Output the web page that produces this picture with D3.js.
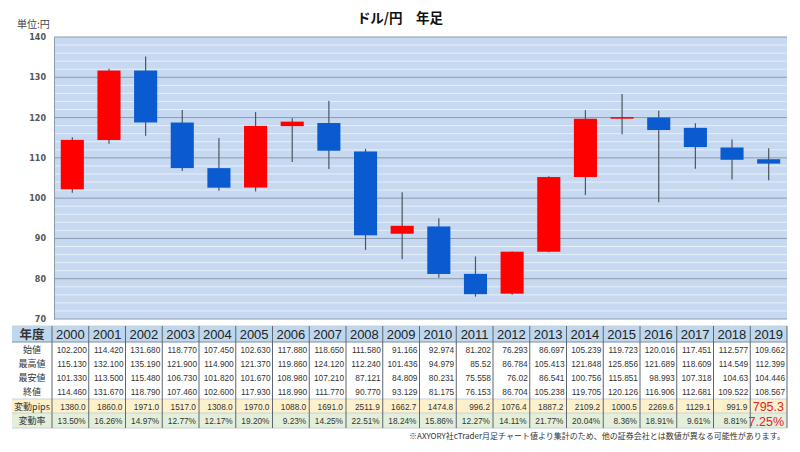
<!DOCTYPE html>
<html><head><meta charset="utf-8">
<script src="https://cdn.jsdelivr.net/npm/d3@7"></script>
<style>body{margin:0;background:#fff;}svg{display:block;font-family:"Noto Sans CJK JP","Noto Sans",sans-serif;}</style>
</head><body>
<svg id="c" width="800" height="452"></svg>
<script>
const years = ["2000","2001","2002","2003","2004","2005","2006","2007","2008","2009","2010","2011","2012","2013","2014","2015","2016","2017","2018","2019"];
const openV = ["102.200","114.420","131.680","118.770","107.450","102.630","117.880","118.650","111.580","91.166","92.974","81.202","76.293","86.697","105.239","119.723","120.016","117.451","112.577","109.662"];
const highV = ["115.130","132.100","135.190","121.900","114.900","121.370","119.860","124.120","112.240","101.436","94.979","85.52","86.784","105.413","121.848","125.856","121.689","118.609","114.549","112.399"];
const lowV = ["101.330","113.500","115.480","106.730","101.820","101.670","108.980","107.210","87.121","84.809","80.231","75.558","76.02","86.541","100.756","115.851","98.993","107.318","104.63","104.446"];
const closeV = ["114.460","131.670","118.790","107.460","102.600","117.930","118.990","111.770","90.770","93.129","81.175","76.153","86.704","105.238","119.705","120.126","116.906","112.681","109.522","108.567"];
const pipsV = ["1380.0","1860.0","1971.0","1517.0","1308.0","1970.0","1088.0","1691.0","2511.9","1662.7","1474.8","996.2","1076.4","1887.2","2109.2","1000.5","2269.6","1129.1","991.9","795.3"];
const rateV = ["13.50%","16.26%","14.97%","12.77%","12.17%","19.20%","9.23%","14.25%","22.51%","18.24%","15.86%","12.27%","14.11%","21.77%","20.04%","8.36%","18.91%","9.61%","8.81%","7.25%"];
const yTicks = [70,80,90,100,110,120,130,140];
const rowLabels = ["始値","最高値","最安値","終値","変動pips","変動率"];

const svg = d3.select("#c");
const L = 54, R = 787, T = 37, B = 319;
const x = d3.scaleBand().domain(years).range([L, R]).paddingInner(0.37).paddingOuter(0.185);
const xCol = d3.scaleBand().domain(years).range([L - 2, R]);
const y = d3.scaleLinear().domain([70, 140]).range([B, T]);

// plot background
svg.append("rect").attr("x", L).attr("y", T).attr("width", R - L).attr("height", B - T).attr("fill", "#c6d9f0");
// minor grid
const minor = d3.range(72, 140, 2).filter(v => v % 10 !== 0);
svg.append("g").selectAll("line").data(minor).join("line")
  .attr("x1", L).attr("x2", R).attr("y1", d => y(d)).attr("y2", d => y(d))
  .attr("stroke", "#e6eefa").attr("stroke-width", 1);
// major grid
svg.append("g").selectAll("line").data(yTicks).join("line")
  .attr("x1", L).attr("x2", R).attr("y1", d => y(d)).attr("y2", d => y(d))
  .attr("stroke", "#8c9cb0").attr("stroke-width", 1);

// y axis
const ya = svg.append("g").attr("transform", `translate(${L},0)`)
  .call(d3.axisLeft(y).tickValues(yTicks).tickSize(0).tickPadding(8));
ya.select(".domain").attr("stroke", "#8c9cb0");
ya.selectAll("text").attr("font-size", 8).attr("font-weight", "bold").attr("fill", "#555")
  .attr("font-family", "DejaVu Sans, sans-serif");

// candles
const data = years.map((yr, i) => ({yr, o: +openV[i], h: +highV[i], l: +lowV[i], c: +closeV[i]}));
const g = svg.append("g");
g.selectAll("line.w").data(data).join("line").attr("class", "w")
  .attr("x1", d => x(d.yr) + x.bandwidth() / 2).attr("x2", d => x(d.yr) + x.bandwidth() / 2)
  .attr("y1", d => y(d.h)).attr("y2", d => y(d.l))
  .attr("stroke", "#4d5560").attr("stroke-width", 1.2);
g.selectAll("rect.b").data(data).join("rect").attr("class", "b")
  .attr("x", d => x(d.yr)).attr("width", x.bandwidth())
  .attr("y", d => y(Math.max(d.o, d.c)))
  .attr("height", d => Math.max(1.2, Math.abs(y(d.o) - y(d.c))))
  .attr("fill", d => d.c >= d.o ? "#ff0000" : "#0b5bd0");

// title
svg.append("text").attr("x", 400).attr("y", 23).attr("text-anchor", "middle")
  .attr("font-size", 13.5).attr("font-weight", "bold").attr("fill", "#111").text("ドル/円　年足");
svg.append("text").attr("x", 17).attr("y", 28).attr("font-size", 10).attr("fill", "#444").text("単位:円");

// table
const tL = 12, tR = 787;
const rowsY = [[326, 342], [342, 356], [356, 370], [370, 384], [384, 399], [399, 413], [413, 428]];
const rowFill = ["#bdd7ee", "#ffffff", "#ffffff", "#ffffff", "#ffffff", "#fdf1cc", "#e3efda"];
const tbl = svg.append("g");
rowsY.forEach((r, i) => {
  tbl.append("rect").attr("x", tL).attr("y", r[0]).attr("width", tR - tL).attr("height", r[1] - r[0]).attr("fill", rowFill[i]);
});
// horizontal lines
[326, 342, 399, 413, 428].forEach(v => {
  tbl.append("line").attr("x1", tL).attr("x2", tR).attr("y1", v).attr("y2", v)
    .attr("stroke", v === 342 ? "#7f8fa3" : "#c9d2dc").attr("stroke-width", 1);
});
// vertical lines
const vx = years.map(yr => xCol(yr)).concat([tR]);
tbl.selectAll("line.v").data(vx).join("line").attr("class", "v")
  .attr("x1", d => d).attr("x2", d => d).attr("y1", 326).attr("y2", 428)
  .attr("stroke", "#5f6670").attr("stroke-width", 1);
// header
tbl.append("text").attr("x", (tL + xCol(years[0])) / 2).attr("y", 339).attr("text-anchor", "middle")
  .attr("font-size", 12.5).attr("font-weight", "bold").attr("fill", "#333").text("年度");
tbl.selectAll("text.yr").data(years).join("text").attr("class", "yr")
  .attr("x", d => xCol(d) + xCol.bandwidth() / 2).attr("y", 339).attr("text-anchor", "middle")
  .attr("font-size", 13).attr("fill", "#222").attr("font-family", "Liberation Sans, Arial, sans-serif").text(d => d);
// row labels
const rowArrays = [openV, highV, lowV, closeV, pipsV, rateV];
rowLabels.forEach((lab, i) => {
  const r = rowsY[i + 1];
  const cy = (r[0] + r[1]) / 2 + 3.5;
  tbl.append("text").attr("x", (tL + xCol(years[0])) / 2).attr("y", cy).attr("text-anchor", "middle")
    .attr("font-size", 9).attr("fill", "#333").text(lab);
  tbl.selectAll(null).data(rowArrays[i]).join("text")
    .attr("x", (d, j) => xCol(years[j]) + xCol.bandwidth() - (i >= 4 ? 3 : 2))
    .attr("y", (d, j) => j === 19 && i >= 4 ? cy + 1.5 : cy)
    .attr("text-anchor", "end")
    .attr("font-family", "Liberation Sans, Arial, sans-serif")
    .attr("font-size", (d, j) => j === 19 && i >= 4 ? 12.5 : 8.3)
    .attr("fill", (d, j) => j === 19 && i >= 4 ? "#e8202a" : "#333")
    .text(d => d);
});
// footnote
svg.append("text").attr("x", 785).attr("y", 439).attr("text-anchor", "end")
  .attr("font-size", 8).attr("fill", "#333")
  .text("※AXYORY社cTrader月足チャート値より集計のため、他の証券会社とは数値が異なる可能性があります。");
</script>
</body></html>
